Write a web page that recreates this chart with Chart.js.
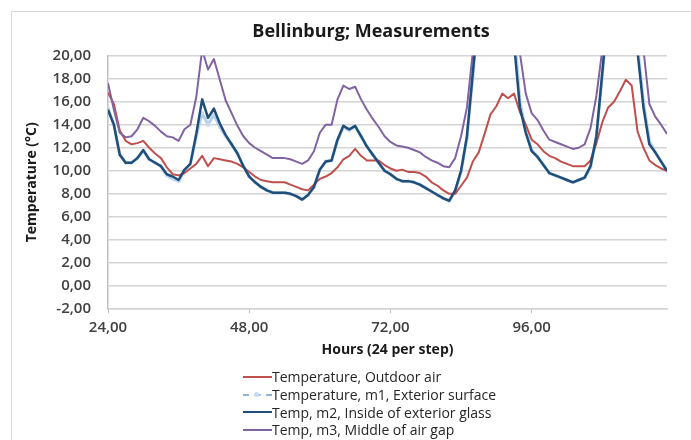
<!DOCTYPE html>
<html>
<head>
<meta charset="utf-8">
<script src="https://cdn.jsdelivr.net/npm/chart.js@4/dist/chart.umd.min.js"></script>
<style>
html, body { margin: 0; padding: 0; background: #fff; overflow: hidden; width: 691px; height: 440px; }
#frame { position: absolute; left: 11px; top: 11px; width: 720px; height: 470px; border: 1px solid #d9d9d9; }
#wrap { position: absolute; left: 0; top: 0; width: 742px; height: 440px; }
#legend { position: absolute; left: 243px; top: 368px; font-family: "Open Sans"; font-size: 14px; color: #262626; }
#legend .row { height: 17.7px; display: flex; align-items: center; white-space: nowrap; }
#legend .swatch { width: 29px; height: 0; border-top-width: 2px; position: relative; }
#legend .dot { position: absolute; left: 11px; top: -4px; width: 5px; height: 5px; border-radius: 50%; }
</style>
</head>
<body>
<div id="frame"></div>
<div id="wrap"><canvas id="chart"></canvas></div>
<div id="legend"></div>
<script>
// hours on the x axis, one reading per hour
const hours = [24, 25, 26, 27, 28, 29, 30, 31, 32, 33, 34, 35, 36, 37, 38, 39, 40, 41, 42, 43, 44, 45, 46, 47,
  48, 49, 50, 51, 52, 53, 54, 55, 56, 57, 58, 59, 60, 61, 62, 63, 64, 65, 66, 67, 68, 69, 70, 71,
  72, 73, 74, 75, 76, 77, 78, 79, 80, 81, 82, 83, 84, 85, 86, 87, 88, 89, 90, 91, 92, 93, 94, 95,
  96, 97, 98, 99, 100, 101, 102, 103, 104, 105, 106, 107, 108, 109, 110, 111, 112, 113, 114, 115, 116, 117, 118, 119];

const outdoorAir = [16.8, 15.8, 13.5, 12.6, 12.3, 12.4, 12.6, 12.0, 11.5, 11.1, 10.3, 9.7, 9.6, 9.8, 10.2, 10.6, 11.3, 10.4, 11.1, 11.0, 10.9, 10.8, 10.6, 10.3,
  9.9, 9.5, 9.2, 9.1, 9.0, 9.0, 9.0, 8.8, 8.6, 8.4, 8.3, 8.8, 9.3, 9.5, 9.8, 10.3, 11.0, 11.3, 11.9, 11.3, 10.9, 10.9, 10.9, 10.5,
  10.2, 10.0, 10.1, 9.9, 9.9, 9.8, 9.5, 9.0, 8.7, 8.3, 8.0, 8.0, 8.7, 9.4, 10.8, 11.6, 13.2, 14.9, 15.6, 16.7, 16.3, 16.7, 15.1, 14.0,
  12.7, 12.3, 11.7, 11.3, 11.1, 10.8, 10.6, 10.4, 10.4, 10.4, 10.9, 12.4, 14.2, 15.5, 16.0, 16.9, 17.9, 17.4, 13.4, 12.0, 10.9, 10.5, 10.2, 10.0];

const m1Surface = [15.4, 14.0, 11.4, 10.7, 10.7, 11.1, 11.7, 11.0, 10.7, 10.4, 9.6, 9.3, 9.1, 10.0, 10.6, 13.0, 15.0, 14.0, 14.9, 13.8, 13.0, 12.3, 11.5, 10.4,
  9.5, 9.0, 8.6, 8.3, 8.1, 8.1, 8.1, 8.0, 7.8, 7.5, 7.9, 8.6, 10.1, 10.8, 10.9, 12.6, 13.8, 13.5, 13.8, 13.0, 12.1, 11.4, 10.7, 10.0,
  9.7, 9.3, 9.1, 9.1, 9.0, 8.8, 8.5, 8.2, 7.9, 7.6, 7.4, 8.2, 9.9, 12.8, 18.2, 24.0, 29.0, 32.0, 33.0, 32.0, 29.0, 22.5, 16.0, 13.5,
  11.8, 11.2, 10.5, 9.8, 9.6, 9.4, 9.2, 9.0, 9.2, 9.4, 10.3, 12.9, 18.3, 24.0, 29.0, 30.0, 29.0, 26.0, 20.8, 16.0, 12.6, 11.6, 10.8, 10.0];

const m2Glass = [15.3, 14.0, 11.4, 10.7, 10.7, 11.1, 11.8, 11.0, 10.7, 10.4, 9.7, 9.5, 9.2, 10.1, 10.6, 13.2, 16.2, 14.6, 15.4, 14.1, 13.1, 12.3, 11.5, 10.4,
  9.5, 9.0, 8.6, 8.3, 8.1, 8.1, 8.1, 8.0, 7.8, 7.5, 7.9, 8.6, 10.1, 10.8, 10.9, 12.7, 13.9, 13.6, 13.9, 13.0, 12.1, 11.4, 10.7, 10.0,
  9.7, 9.3, 9.1, 9.1, 9.0, 8.8, 8.5, 8.2, 7.9, 7.6, 7.4, 8.3, 10.0, 13.0, 18.5, 24.0, 29.0, 32.0, 33.0, 32.0, 28.0, 21.1, 15.5, 13.3,
  11.7, 11.2, 10.5, 9.8, 9.6, 9.4, 9.2, 9.0, 9.2, 9.4, 10.4, 13.0, 18.5, 24.0, 29.0, 30.0, 29.0, 26.0, 20.3, 15.5, 12.3, 11.6, 10.8, 10.0];

const m3AirGap = [17.6, 15.3, 13.3, 12.9, 13.0, 13.6, 14.6, 14.3, 13.9, 13.4, 13.0, 12.9, 12.6, 13.6, 14.0, 16.4, 20.5, 18.8, 19.7, 17.9, 16.1, 15.0, 13.9, 13.0,
  12.4, 12.0, 11.7, 11.4, 11.1, 11.1, 11.1, 11.0, 10.8, 10.6, 10.9, 11.7, 13.3, 14.0, 14.0, 16.2, 17.4, 17.1, 17.3, 16.2, 15.3, 14.5, 13.8, 13.0,
  12.5, 12.2, 12.1, 12.0, 11.8, 11.6, 11.2, 10.9, 10.7, 10.4, 10.3, 11.1, 13.0, 15.5, 20.3, 27.0, 31.0, 34.0, 35.0, 34.0, 31.0, 27.0, 20.2, 16.7,
  15.0, 14.4, 13.5, 12.7, 12.5, 12.3, 12.1, 11.9, 12.0, 12.3, 13.7, 16.5, 20.5, 27.0, 31.0, 33.0, 32.0, 29.0, 25.0, 20.5, 15.8, 14.7, 14.0, 13.2];

const xTickValues = [24, 48, 72, 96];
const seriesNames = ["Temperature, Outdoor air", "Temperature, m1, Exterior surface", "Temp, m2, Inside of exterior glass", "Temp, m3, Middle of air gap"];

function fmt(v) {
  return Number(v).toFixed(2).replace(".", ",");
}
function pts(vals) {
  return hours.map((h, i) => ({ x: h, y: vals[i] }));
}

const tickFont = { family: "Open Sans", size: 15, weight: "600" };

const chart = new Chart(document.getElementById("chart"), {
  type: "line",
  data: {
    datasets: [
      { label: seriesNames[0], data: pts(outdoorAir), borderColor: "#c0504d", borderWidth: 2, order: 2 },
      { label: seriesNames[1], data: pts(m1Surface), borderColor: "#b3d1ee", borderWidth: 3, order: 3,
        pointRadius: 2, pointBackgroundColor: "#c5dcf2", pointBorderWidth: 0 },
      { label: seriesNames[2], data: pts(m2Glass), borderColor: "#1f4e79", borderWidth: 2.5, order: 0 },
      { label: seriesNames[3], data: pts(m3AirGap), borderColor: "#8064a2", borderWidth: 2, order: 1 }
    ]
  },
  options: {
    responsive: true,
    maintainAspectRatio: false,
    animation: false,
    layout: { padding: { left: 0, right: 0, top: 0, bottom: 76 } },
    elements: {
      line: { tension: 0, borderJoinStyle: "round" },
      point: { radius: 0, hoverRadius: 0 }
    },
    datasets: { line: { clip: 0 } },
    plugins: {
      legend: { display: false },
      tooltip: { enabled: false },
      title: {
        display: true,
        text: "Bellinburg; Measurements",
        color: "#1a1a1a",
        font: { family: "Open Sans", size: 18, weight: "bold" },
        padding: { top: 21, bottom: 13 }
      }
    },
    scales: {
      x: {
        type: "linear",
        min: 24,
        max: 119,
        afterFit: s => { s.height = 55; },
        afterBuildTicks: s => { s.ticks = xTickValues.map(v => ({ value: v })); },
        ticks: { callback: fmt, color: "#404040", font: tickFont, padding: 6, maxRotation: 0 },
        grid: { display: true, drawOnChartArea: false, drawTicks: true, tickLength: 4, color: "#bfbfbf" },
        border: { display: true, color: "#d4d4d4", width: 1.5 },
        title: {
          display: true,
          text: "Hours (24 per step)",
          color: "#1a1a1a",
          font: { family: "Open Sans", size: 14, weight: "bold" },
          padding: { top: 0, bottom: 6 }
        }
      },
      y: {
        min: -2,
        max: 20,
        afterFit: s => { s.width = 108; },
        ticks: { stepSize: 2, callback: fmt, color: "#404040", font: tickFont, padding: 17 },
        grid: { color: "#d4d4d4", lineWidth: 1.5, drawTicks: false },
        border: { display: true, color: "#bfbfbf", width: 1.5 },
        title: {
          display: true,
          text: "Temperature (°C)",
          color: "#1a1a1a",
          font: { family: "Open Sans", size: 14, weight: "bold" },
          padding: { top: 24, bottom: 0 }
        }
      },
      // empty spacer on the right so the plot ends where the original does
      spacer: {
        type: "linear",
        position: "right",
        display: true,
        afterFit: s => { s.width = 75; },
        ticks: { display: false },
        grid: { display: false },
        border: { display: false }
      }
    }
  }
});

// legend stacked one entry per row, built from the datasets
const legendBox = document.getElementById("legend");
chart.data.datasets.forEach((ds, i) => {
  const row = document.createElement("div");
  row.className = "row";
  const sw = document.createElement("span");
  sw.className = "swatch";
  sw.style.borderTopStyle = i === 1 ? "dashed" : "solid";
  sw.style.borderTopColor = i === 1 ? "#8db4e2" : ds.borderColor;
  if (i === 1) {
    const dot = document.createElement("span");
    dot.className = "dot";
    dot.style.background = "#c5dcf2";
    sw.appendChild(dot);
  }
  const txt = document.createElement("span");
  txt.textContent = ds.label;
  row.appendChild(sw);
  row.appendChild(txt);
  legendBox.appendChild(row);
});
</script>
</body>
</html>
